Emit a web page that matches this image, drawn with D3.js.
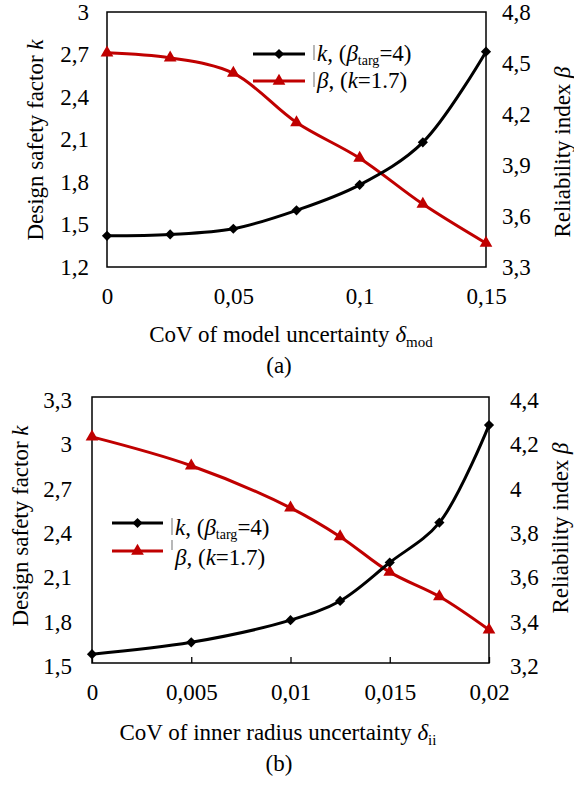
<!DOCTYPE html>
<html><head><meta charset="utf-8">
<script src="https://cdn.jsdelivr.net/npm/d3@7/dist/d3.min.js"></script>
<style>
html,body{margin:0;padding:0;background:#fff;}
svg text{font-family:"Liberation Serif","Times New Roman","DejaVu Serif",serif !important;}
</style></head>
<body><svg id="c" width="574" height="789"></svg>
<script>
// ---- Data: chart (a) ----
const xA = [0, 0.025, 0.05, 0.075, 0.1, 0.125, 0.15];
const kA = [1.42, 1.43, 1.47, 1.60, 1.78, 2.08, 2.72];
const betaA = [4.56, 4.53, 4.44, 4.15, 3.94, 3.67, 3.44];
const xTicksA = [0, 0.05, 0.1, 0.15];
const xTickLabelsA = ["0", "0,05", "0,1", "0,15"];
const kTicksA = [1.2, 1.5, 1.8, 2.1, 2.4, 2.7, 3];
const kTickLabelsA = ["1,2", "1,5", "1,8", "2,1", "2,4", "2,7", "3"];
const bTicksA = [3.3, 3.6, 3.9, 4.2, 4.5, 4.8];
const bTickLabelsA = ["3,3", "3,6", "3,9", "4,2", "4,5", "4,8"];

// ---- Data: chart (b) ----
const xB = [0, 0.005, 0.01, 0.0125, 0.015, 0.0175, 0.02];
const kB = [1.56, 1.64, 1.79, 1.92, 2.18, 2.45, 3.11];
const betaB = [4.22, 4.09, 3.90, 3.77, 3.61, 3.50, 3.35];
const xTicksB = [0, 0.005, 0.01, 0.015, 0.02];
const xTickLabelsB = ["0", "0,005", "0,01", "0,015", "0,02"];
const kTicksB = [1.5, 1.8, 2.1, 2.4, 2.7, 3, 3.3];
const kTickLabelsB = ["1,5", "1,8", "2,1", "2,4", "2,7", "3", "3,3"];
const bTicksB = [3.2, 3.4, 3.6, 3.8, 4, 4.2, 4.4];
const bTickLabelsB = ["3,2", "3,4", "3,6", "3,8", "4", "4,2", "4,4"];

const RED = "#c00000";
const FS = 23;
const svg = d3.select("#c");

function lab(labels, ticks){ return v => labels[ticks.indexOf(v)]; }

function chart(o){
  const g = svg.append("g");
  const x = d3.scaleLinear().domain(o.xDom).range([o.L, o.R]);
  const yk = d3.scaleLinear().domain(o.kDom).range([o.B, o.T]);
  const yb = d3.scaleLinear().domain(o.bDom).range([o.B, o.T]);

  // axes
  const ax = g.append("g").attr("transform", `translate(0,${o.B})`)
    .call(d3.axisBottom(x).tickValues(o.xTicks).tickFormat(lab(o.xLabels, o.xTicks))
      .tickSize(o.xTickLen ? -o.xTickLen : 0).tickPadding(0));
  ax.select(".domain").remove();
  ax.selectAll("line").attr("stroke","#000").attr("stroke-width",1.3);
  ax.selectAll("text").attr("font-size",FS).attr("fill","#000")
    .attr("dy",null).attr("y",o.xLabY - o.B);

  const al = g.append("g").attr("transform", `translate(${o.L},0)`)
    .call(d3.axisLeft(yk).tickValues(o.kTicks).tickFormat(lab(o.kLabels, o.kTicks)).tickSize(0).tickPadding(o.lPad));
  al.select(".domain").remove();
  al.selectAll("text").attr("font-size",FS).attr("fill","#000").attr("dy",o.yDy);

  const ar = g.append("g").attr("transform", `translate(${o.R},0)`)
    .call(d3.axisRight(yb).tickValues(o.bTicks).tickFormat(lab(o.bLabels, o.bTicks)).tickSize(0).tickPadding(o.rPad));
  ar.select(".domain").remove();
  ar.selectAll("text").attr("font-size",FS).attr("fill","#000").attr("dy",o.yDy);

  // frame
  g.append("rect").attr("x",o.L).attr("y",o.T).attr("width",o.R-o.L).attr("height",o.B-o.T)
    .attr("fill","none").attr("stroke","#000").attr("stroke-width",1.5);

  const curve = d3.curveCatmullRom.alpha(0.5);
  const lk = d3.line().x((d,i)=>x(o.xs[i])).y(d=>yk(d)).curve(curve);
  const lb = d3.line().x((d,i)=>x(o.xs[i])).y(d=>yb(d)).curve(curve);
  g.append("path").attr("d",lb(o.beta)).attr("fill","none").attr("stroke",RED).attr("stroke-width",3);
  g.append("path").attr("d",lk(o.k)).attr("fill","none").attr("stroke","#000").attr("stroke-width",3);

  const tri = d3.symbol().type(d3.symbolTriangle).size(70);
  const dia = d3.symbol().type(d3.symbolSquare).size(52);
  g.selectAll(".tb").data(o.beta).enter().append("path")
    .attr("transform",(d,i)=>`translate(${x(o.xs[i])},${yb(d)})`).attr("d",tri).attr("fill",RED);
  g.selectAll(".dk").data(o.k).enter().append("path")
    .attr("transform",(d,i)=>`translate(${x(o.xs[i])},${yk(d)}) rotate(45)`).attr("d",dia).attr("fill","#000");

  // axis titles
  const lt = g.append("text").attr("transform",`translate(${o.ltX},${o.ltY}) rotate(-90)`)
    .attr("text-anchor","middle").attr("font-size",FS);
  lt.append("tspan").text("Design safety factor ");
  lt.append("tspan").attr("font-style","italic").text("k");
  const rt = g.append("text").attr("transform",`translate(${o.rtX},${o.rtY}) rotate(-90)`)
    .attr("text-anchor","middle").attr("font-size",FS);
  rt.append("tspan").text("Reliability index ");
  rt.append("tspan").attr("font-style","italic").text("β");

  const xt = g.append("text").attr("x",o.xtX).attr("y",o.xtY).attr("text-anchor","middle").attr("font-size",FS);
  xt.append("tspan").text(o.xTitle + " ");
  xt.append("tspan").attr("font-style","italic").text("δ");
  xt.append("tspan").attr("font-size",15).attr("dy",5).text(o.xSub);

  g.append("text").attr("x",279).attr("y",o.capY).attr("text-anchor","middle").attr("font-size",FS).text(o.cap);

  // legend
  const Lg = g.append("g");
  const rows = [{c:"#000", sym:dia, y:o.lgY1, rot:45},{c:RED, sym:tri, y:o.lgY2, rot:0}];
  rows.forEach((r,i)=>{
    Lg.append("line").attr("x1",o.lgX1).attr("x2",o.lgX2).attr("y1",r.y).attr("y2",r.y)
      .attr("stroke",r.c).attr("stroke-width",3);
    Lg.append("path").attr("transform",`translate(${(o.lgX1+o.lgX2)/2},${r.y}) rotate(${r.rot})`).attr("d",r.sym).attr("fill",r.c);
    Lg.append("line").attr("x1",o.lgX2+9).attr("x2",o.lgX2+9).attr("y1",o.barY[i][0]).attr("y2",o.barY[i][1])
      .attr("stroke","#888").attr("stroke-width",1.2);
  });
  const t1 = Lg.append("text").attr("x",o.lgX2+12).attr("y",o.lgT1).attr("font-size",FS);
  t1.append("tspan").attr("font-style","italic").text("k");
  t1.append("tspan").text(", (");
  t1.append("tspan").attr("font-style","italic").text("β");
  t1.append("tspan").attr("font-size",14).attr("dy",4).text("targ");
  t1.append("tspan").attr("dy",-4).text("=4)");
  const t2 = Lg.append("text").attr("x",o.lgX2+12).attr("y",o.lgT2).attr("font-size",FS);
  t2.append("tspan").attr("font-style","italic").text("β");
  t2.append("tspan").text(", (");
  t2.append("tspan").attr("font-style","italic").text("k");
  t2.append("tspan").text("=1.7)");
}

chart({L:107,R:486,T:12,B:267, xDom:[0,0.15], kDom:[1.2,3], bDom:[3.3,4.8],
  xs:xA, k:kA, beta:betaA, xTicks:xTicksA, xLabels:xTickLabelsA, kTicks:kTicksA, kLabels:kTickLabelsA,
  bTicks:bTicksA, bLabels:bTickLabelsA, xTickLen:0, xLabY:304, lPad:18, rPad:16, yDy:"0.32em",
  ltX:43, ltY:140, rtX:570, rtY:152, xtX:291, xtY:342, xTitle:"CoV of model uncertainty", xSub:"mod",
  capY:373, cap:"(a)", lgX1:253, lgX2:305, lgY1:54, lgY2:81, lgT1:61, lgT2:88, barY:[[45,60],[72,87]]});

chart({L:92,R:489,T:397,B:663, xDom:[0,0.02], kDom:[1.5,3.3], bDom:[3.2,4.4],
  xs:xB, k:kB, beta:betaB, xTicks:xTicksB, xLabels:xTickLabelsB, kTicks:kTicksB, kLabels:kTickLabelsB,
  bTicks:bTicksB, bLabels:bTickLabelsB, xTickLen:6, xLabY:700, lPad:20, rPad:21, yDy:"0.45em",
  ltX:28, ltY:526, rtX:568, rtY:528, xtX:278, xtY:740, xTitle:"CoV of inner radius uncertainty", xSub:"ii",
  capY:771, cap:"(b)", lgX1:112, lgX2:163, lgY1:523, lgY2:551, lgT1:535, lgT2:565, barY:[[518,535],[540,550]]});
</script></body></html>
